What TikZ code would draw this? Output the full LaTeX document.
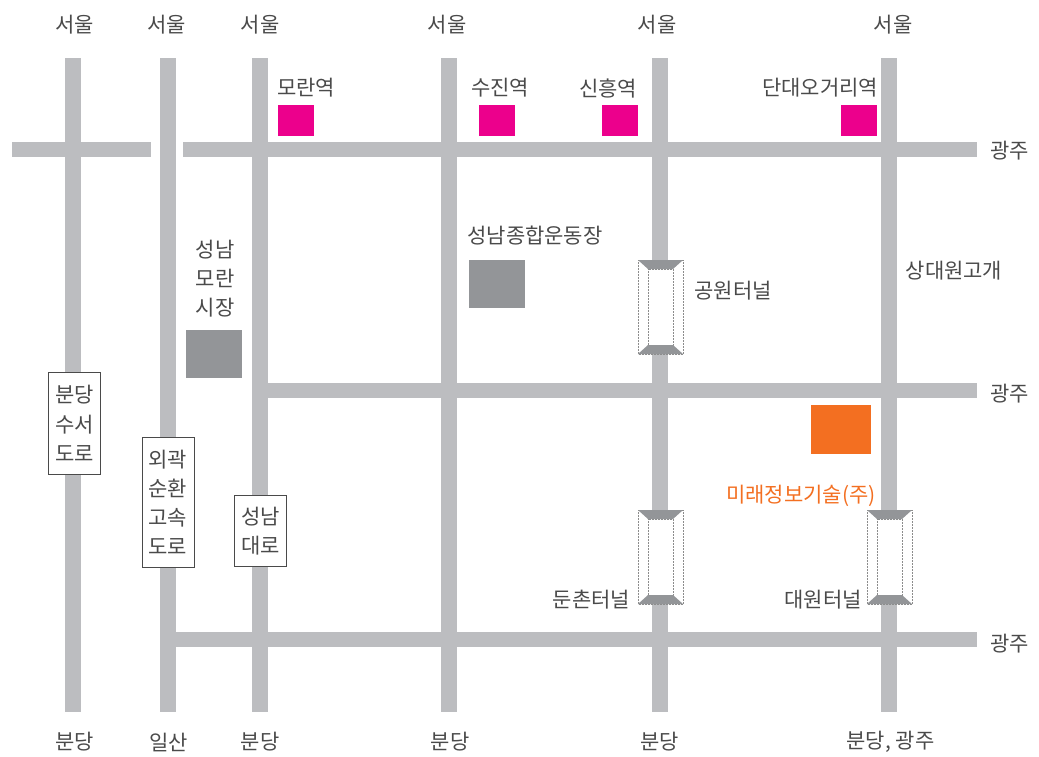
\documentclass[tikz,border=0pt]{standalone}
\usepackage{fontspec}
\setmainfont{Noto Sans CJK KR}
\definecolor{road}{HTML}{BCBDC0}
\definecolor{block}{HTML}{939598}
\definecolor{pinkst}{HTML}{EC008C}
\definecolor{orangeb}{HTML}{F36F21}
\definecolor{txt}{HTML}{4A4A4A}
\tikzset{
  roadv/.style={fill=road,draw=none},
  lbl/.style={font=\fontsize{21}{21}\selectfont,text=txt,inner sep=0pt},
  signbox/.style={draw=txt,line width=0.8pt,fill=white,font=\fontsize{21}{29.2}\selectfont,text=txt,align=center,inner sep=0pt,anchor=north west},
  dots/.style={draw=black!45,densely dotted,line width=0.5pt},
}
\newcommand{\tunnel}[3]{% left x, top y, bottom y
  \fill[white] (#1,#2) rectangle ++(45,#3-#2);
  \draw[dots] (#1,#2) rectangle ++(45,#3-#2);
  \draw[dots] (#1+10,#2+9) rectangle (#1+35,#3-9);
  \fill[block] (#1,#2) -- ++(45,0) -- ++(-10,9) -- ++(-25,0) -- cycle;
  \fill[block] (#1,#3) -- ++(45,0) -- ++(-10,-9) -- ++(-25,0) -- cycle;
}
\begin{document}
\begin{tikzpicture}[x=1pt,y=-1pt]
\useasboundingbox (0,0) rectangle (1039,756);
% vertical roads
\foreach \x in {73,168,260,449,660,889} \fill[roadv] (\x-8,58) rectangle (\x+8,712);
% horizontal roads
\fill[roadv] (12,142) rectangle (151,157);
\fill[roadv] (183,142) rectangle (977,157);
\fill[roadv] (268,383) rectangle (977,398);
\fill[roadv] (176,632) rectangle (977,647);
% tunnels
\tunnel{638}{260}{354}
\tunnel{638}{510}{604}
\tunnel{867}{510}{604}
% blocks
\fill[block] (186,330) rectangle (242,378);
\fill[block] (469,260) rectangle (525,308);
\foreach \x in {278,479,602,841} \fill[pinkst] (\x,105) rectangle (\x+36,136);
\fill[orangeb] (811,405) rectangle (871,454);
% sign boxes
\node[signbox,minimum width=52pt,minimum height=102pt] (s1) at (48,372) {분당\\수서\\도로};
\node[signbox,minimum width=52pt,minimum height=130pt] (s2) at (141.5,437) {외곽\\순환\\고속\\도로};
\node[signbox,minimum width=52pt,minimum height=71pt] (s3) at (234,495) {성남\\대로};
% top labels
\foreach \n/\x in {t1/74.5,t2/166.5,t3/260,t4/447,t5/657,t6/893} \node[lbl] (\n) at (\x,24.5) {서울};
% bottom labels
\node[lbl] (b1) at (74.5,742) {분당};
\node[lbl] (b2) at (168.5,742) {일산};
\node[lbl] (b3) at (260,742) {분당};
\node[lbl] (b4) at (450,742) {분당};
\node[lbl] (b5) at (659.5,742) {분당};
\node[lbl] (b6) at (890.5,742) {분당, 광주};
% right labels
\node[lbl] (r1) at (1009.5,151) {광주};
\node[lbl] (r2) at (1009.5,394) {광주};
\node[lbl] (r3) at (1009.5,644) {광주};
% station labels
\node[lbl] (m1) at (306,88) {모란역};
\node[lbl] (m2) at (500,88) {수진역};
\node[lbl] (m3) at (608,88) {신흥역};
\node[lbl] (m4) at (820,88) {단대오거리역};
% places
\node[lbl] (p1) at (535,236) {성남종합운동장};
\node[lbl,align=center,font=\fontsize{21}{29}\selectfont] (p2) at (215,279) {성남\\모란\\시장};
\node[lbl] (p3) at (733,291) {공원터널};
\node[lbl] (p4) at (954,271) {상대원고개};
\node[lbl] (p5) at (591.5,600) {둔촌터널};
\node[lbl] (p6) at (823,600) {대원터널};
\node[lbl,text=orangeb] (p7) at (801,495.5) {미래정보기술(주)};
\end{tikzpicture}
\end{document}
